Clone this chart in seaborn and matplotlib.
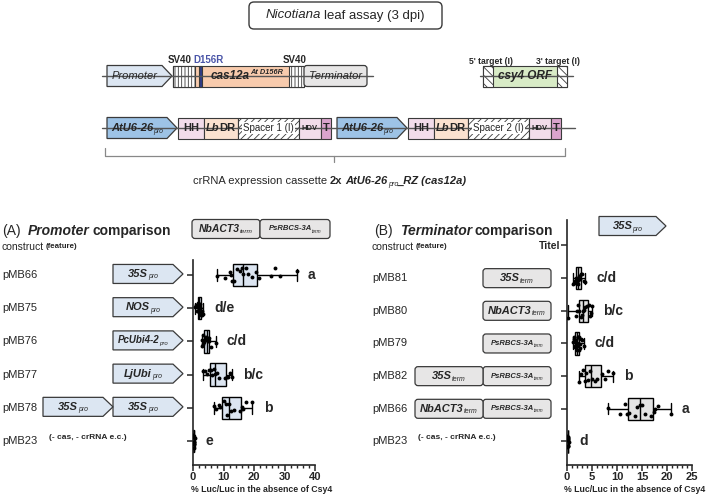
import numpy as np
import pandas as pd
import matplotlib.pyplot as plt
import seaborn as sns
from matplotlib.patches import Polygon, Rectangle, FancyBboxPatch
from matplotlib.ticker import MultipleLocator

# (A) promoter comparison
prom_constructs = ['pMB66', 'pMB75', 'pMB76', 'pMB77', 'pMB78', 'pMB23']
prom_letters = ['a', 'd/e', 'c/d', 'b/c', 'b', 'e']
prom_values = {
    'pMB66': [8, 10.5, 12, 12.5, 12.8, 13.5, 14.5, 15.5, 16, 16.5, 17.5, 18, 19.5, 20.5, 21.5, 25.5, 27, 28.5, 34],
    'pMB75': [0.6, 1.0, 1.3, 1.5, 1.7, 1.9, 2.0, 2.1, 2.2, 2.4, 2.6, 2.8, 3.0, 3.3],
    'pMB76': [2.9, 3.1, 3.2, 3.4, 3.7, 4.0, 4.3, 4.6, 4.8, 5.0, 5.2, 5.4, 6.0, 7.5],
    'pMB77': [3.3, 4.0, 4.5, 5.2, 5.8, 6.2, 6.8, 7.2, 7.8, 8.5, 10.6, 11.2, 11.6, 12.2, 12.9],
    'pMB78': [6.9, 7.5, 8.5, 9.0, 10.0, 10.8, 11.2, 11.7, 12.5, 13.5, 15.3, 16.0, 16.5, 17.5, 19.5],
    'pMB23': [0.0, 0.05, 0.1, 0.15, 0.2, 0.2, 0.25, 0.3, 0.35, 0.4, 0.5],
}
prom_features = [['35S'], ['NOS'], ['PcUbi4-2'], ['LjUbi'], ['35S', '35S'], []]

# (B) terminator comparison
term_constructs = ['Titel', 'pMB81', 'pMB80', 'pMB79', 'pMB82', 'pMB66', 'pMB23']
term_letters = ['', 'c/d', 'b/c', 'c/d', 'b', 'a', 'd']
term_values = {
    'pMB81': [1.2, 1.4, 1.6, 1.7, 1.8, 1.9, 2.0, 2.1, 2.2, 2.4, 2.6, 2.8, 3.0, 3.3, 3.6],
    'pMB80': [0.2, 1.8, 2.0, 2.2, 2.4, 2.7, 3.0, 3.1, 3.3, 3.6, 4.0, 4.3, 4.5, 4.7, 4.9],
    'pMB79': [1.1, 1.3, 1.4, 1.5, 1.6, 1.7, 1.8, 1.9, 2.0, 2.0, 2.1, 2.2, 2.3, 2.4, 2.5, 2.6, 2.8, 3.0, 3.3],
    'pMB82': [2.4, 2.8, 3.2, 3.5, 3.8, 4.2, 4.5, 5.0, 5.5, 6.0, 7.0, 7.5, 8.2, 9.1],
    'pMB66': [8.1, 10.5, 11.5, 12.0, 12.3, 13.5, 14.0, 14.5, 15.0, 15.5, 16.8, 17.4, 17.5, 18.2, 20.7],
    'pMB23': [0.0, 0.05, 0.1, 0.1, 0.15, 0.2, 0.2, 0.25, 0.3],
}
term_features = [[], ['35S'], ['NbACT3'], ['PsRBCS-3A'], ['35S', 'PsRBCS-3A'], ['NbACT3', 'PsRBCS-3A'], []]

sns.set_style('ticks')
plt.rcParams['font.family'] = ['Liberation Sans', 'DejaVu Sans']
plt.rcParams['hatch.linewidth'] = 0.6
np.random.seed(3)

dfA = pd.DataFrame([(k, v) for k in prom_constructs for v in prom_values[k]], columns=['construct', 'val'])
dfB = pd.DataFrame([(k, v) for k in term_constructs if k in term_values for v in term_values[k]],
                   columns=['construct', 'val'])

W, H = 709, 497
fig = plt.figure(figsize=(W / 100, H / 100), dpi=100)
ov = fig.add_axes([0, 0, 1, 1])
ov.set_xlim(0, W)
ov.set_ylim(H, 0)
ov.axis('off')
renderer = fig.canvas.get_renderer()

axA = fig.add_axes([193 / W, 1 - 465 / H, 122 / W, (465 - 260) / H])
axB = fig.add_axes([567 / W, 1 - 465 / H, 125 / W, (465 - 220) / H])

xlab = '% Luc/Luc in the absence of Csy4'
panels = [(axA, dfA, prom_constructs, prom_letters, '#dce5f1', 40, 10, 2, (5.72, -0.45), 0.56),
          (axB, dfB, term_constructs, term_letters, '#e4e4e4', 25, 5, 1, (6.72, -0.78), 0.54)]
for ax, df, order, letters, fill, xmax, major, minor, ylim, lx in panels:
    ax.set_facecolor('none')
    sns.boxplot(data=df, x='val', y='construct', order=order, orient='h', whis=(0, 100),
                width=0.68, color=fill, saturation=1, linecolor='black', linewidth=1.0,
                showfliers=False, ax=ax)
    sns.stripplot(data=df, x='val', y='construct', order=order, orient='h', color='black',
                  size=2.8, jitter=0.22, ax=ax)
    for i, (c, let) in enumerate(zip(order, letters)):
        if let:
            ax.annotate(let, xy=(df.loc[df.construct == c, 'val'].max(), i), xytext=(8, 0),
                        textcoords='offset points', ha='left', va='center',
                        fontsize=10, fontweight='bold')
    ax.set_xlim(0, xmax)
    ax.set_ylim(*ylim)
    ax.xaxis.set_major_locator(MultipleLocator(major))
    ax.xaxis.set_minor_locator(MultipleLocator(minor))
    ax.set_xlabel(xlab, fontsize=6.3, fontweight='bold', labelpad=1)
    ax.set_ylabel('')
    ax.tick_params(axis='both', direction='out', length=4, width=1.1, labelsize=8, pad=1)
    ax.tick_params(axis='x', which='minor', direction='out', length=2.2, width=1.0)
    for lab in ax.get_xticklabels():
        lab.set_fontweight('bold')
    sns.despine(ax=ax)
    for s in ['left', 'bottom']:
        ax.spines[s].set_linewidth(1.2)
    ax.xaxis.set_label_coords(lx, -20 / (ax.get_position().height * H))

axA.set_yticks(range(len(prom_constructs)))
axA.set_yticklabels([''] * len(prom_constructs))
axB.set_yticks(range(len(term_constructs)))
axB.set_yticklabels(['Titel'] + [''] * (len(term_constructs) - 1), fontsize=7.5, fontweight='bold')

EC = '#3a3a3a'
BI = dict(fontstyle='italic', fontweight='bold')
IT = dict(fontstyle='italic')
BF = dict(fontweight='bold')


def rich(x, y, parts, ha='center', size=8):
    # parts: (text, style dict); style may hold 'dy' (px down), 'gap' (px before), 'scale'
    texts, gaps = [], []
    for s, kw in parts:
        kw = dict(kw)
        dy = kw.pop('dy', 0)
        gaps.append(kw.pop('gap', 0))
        fs = size * kw.pop('scale', 1)
        texts.append(ov.text(0, y + dy, s, ha='left', va='center', fontsize=fs, **kw))
    widths = [t.get_window_extent(renderer).width for t in texts]
    total = sum(widths) + sum(gaps)
    x0 = x - total / 2 if ha == 'center' else x
    for t, w, g in zip(texts, widths, gaps):
        x0 += g
        t.set_x(x0)
        x0 += w


def feat(name, s, size):
    return [(name, BI), (s, dict(fontstyle='italic', scale=0.62, dy=size * 0.38))]


def row_y(ax, i):
    return ov.transData.inverted().transform(ax.transData.transform((0, i)))[1]


def arrow(x0, x1, yc, h, fc, parts=None, size=8, tip=10):
    pts = [(x0, yc - h / 2), (x1 - tip, yc - h / 2), (x1, yc), (x1 - tip, yc + h / 2), (x0, yc + h / 2)]
    ov.add_patch(Polygon(pts, closed=True, fc=fc, ec=EC, lw=0.9))
    if parts:
        rich((x0 + x1 - tip) / 2, yc, parts, size=size)


def rbox(x0, x1, yc, h, fc, parts=None, size=8, r=3):
    ov.add_patch(FancyBboxPatch((x0, yc - h / 2), x1 - x0, h, boxstyle=f'round,pad=0,rounding_size={r}',
                                fc=fc, ec=EC, lw=0.9))
    if parts:
        rich((x0 + x1) / 2, yc, parts, size=size)


def rect(x0, x1, yc, h, fc, parts=None, size=7, hatch=None, textbox=False):
    ov.add_patch(Rectangle((x0, yc - h / 2), x1 - x0, h, fc=fc, ec=EC, lw=0.8, hatch=hatch))
    if parts and textbox:
        ov.text((x0 + x1) / 2, yc, parts, ha='center', va='center', fontsize=size,
                bbox=dict(fc='white', ec='none', pad=0.6))
    elif parts:
        rich((x0 + x1) / 2, yc, parts, size=size)


# title box
ov.add_patch(FancyBboxPatch((249, 2), 193, 27, boxstyle='round,pad=0,rounding_size=5', fc='white', ec=EC, lw=1.0))
rich(345, 15.5, [('Nicotiana', IT), ('leaf assay (3 dpi)', dict(gap=3))], size=9.5)

# cas12a expression construct
y1 = 76
ov.plot([102, 373], [y1, y1], color='#555555', lw=1)
arrow(107, 172, y1, 21, '#dce6f2', [('Promoter', IT)], size=8)
rect(173, 304, y1, 21, '#f8cbad')
rect(173, 195, y1, 21, 'white', hatch='|||||')
rect(289, 304, y1, 21, 'white', hatch='|||||')
rect(199, 202, y1, 21, '#2e3a87')
rich(247, y1, [('cas12a', BI), ('At D156R', dict(BI, scale=0.62, dy=-4))], size=8.5)
rbox(304, 367, y1, 21, '#e7e6e6', [('Terminator', IT)], size=8)
ov.text(180, 60, 'SV40', ha='center', va='center', fontsize=7, fontweight='bold')
ov.text(209, 60, 'D156R', ha='center', va='center', fontsize=7, fontweight='bold', color='#4a55a8')
ov.text(295, 60, 'SV40', ha='center', va='center', fontsize=7, fontweight='bold')

# csy4 reporter
ov.plot([480, 573], [y1, y1], color='#555555', lw=1)
rect(483, 567, y1, 21, '#d8ebc6', [('csy4 ORF', BI)], size=8.5)
rect(483, 493, y1, 21, 'white', hatch='\\\\\\\\')
rect(557, 567, y1, 21, 'white', hatch='\\\\\\\\')
ov.text(491, 61, "5' target (I)", ha='center', va='center', fontsize=6.2, fontweight='bold')
ov.text(558, 61, "3' target (I)", ha='center', va='center', fontsize=6.2, fontweight='bold')

# crRNA cassette
y2 = 128
ov.plot([102, 575], [y2, y2], color='#555555', lw=1)
for x0, sp in [(107, '1'), (337, '2')]:
    arrow(x0, x0 + 70, y2, 21, '#9dc3e6', feat('AtU6-26', 'pro', 8), size=8)
    rect(x0 + 71, x0 + 97, y2, 21, '#f2dcea', [('HH', BF)], size=8)
    rect(x0 + 97, x0 + 131, y2, 21, '#fbe2d0', [('Lb', BI), ('DR', BF)], size=8)
    rect(x0 + 131, x0 + 192, y2, 21, 'white', 'Spacer %s (I)' % sp, size=7, hatch='/////', textbox=True)
    rect(x0 + 192, x0 + 214, y2, 21, '#f2dcea', [('HDV', BF)], size=5.5)
    rect(x0 + 214, x0 + 224, y2, 21, '#d9a3cc', [('T', BF)], size=8)
ov.plot([105, 105, 565, 565], [148, 156, 156, 148], color='#888888', lw=0.9)
ov.plot([334, 334], [156, 162], color='#888888', lw=0.9)
rich(330, 181, [('crRNA expression cassette', {}), ('2x', dict(BF, gap=3)), ('AtU6-26', dict(BI, gap=3)),
                ('pro', dict(IT, scale=0.65, dy=3)), ('_RZ (cas12a)', BI)], size=8)

# panel headers
rich(2, 231, [('(A)', {}), ('Promoter', dict(BI, gap=7)), ('comparison', dict(BF, gap=3))], ha='left', size=10)
rbox(192, 260, 229, 19, '#e7e6e6', feat('NbACT3', 'term', 7.5), size=7.5)
rbox(260, 330, 229, 19, '#e7e6e6', feat('PsRBCS-3A', 'term', 5.5), size=5.5)
rich(374, 231, [('(B)', {}), ('Terminator', dict(BI, gap=7)), ('comparison', dict(BF, gap=3))], ha='left', size=10)
arrow(599, 666, 226, 19, '#dce6f2', feat('35S', 'pro', 8), size=8)
for x in [2, 372]:
    rich(x, 247, [('construct', {}), ('(feature)', dict(BF, scale=0.75, gap=2))], ha='left', size=7.5)

# promoter features
for i, (c, feats) in enumerate(zip(prom_constructs, prom_features)):
    y = row_y(axA, i)
    ov.text(2, y, c, ha='left', va='center', fontsize=8)
    x1 = 183
    for f in reversed(feats):
        fs = 8 if len(f) < 6 else 7
        arrow(x1 - 70, x1, y - 1, 19, '#dce6f2', feat(f, 'pro', fs), size=fs)
        x1 -= 70
    if not feats:
        ov.text(49, y - 4, '(- cas, - crRNA e.c.)', ha='left', va='center', fontsize=6, fontweight='bold')

# terminator features
for i, (c, feats) in enumerate(zip(term_constructs, term_features)):
    if c == 'Titel':
        continue
    y = row_y(axB, i)
    ov.text(372, y, c, ha='left', va='center', fontsize=8)
    x1 = 551
    for f in reversed(feats):
        fs = 5.5 if 'RBCS' in f else 8
        rbox(x1 - 68, x1, y, 19, '#e7e6e6', feat(f, 'term', fs), size=fs)
        x1 -= 68
    if not feats:
        ov.text(418, y - 4, '(- cas, - crRNA e.c.)', ha='left', va='center', fontsize=6, fontweight='bold')

fig.savefig('out.png', dpi=100)
